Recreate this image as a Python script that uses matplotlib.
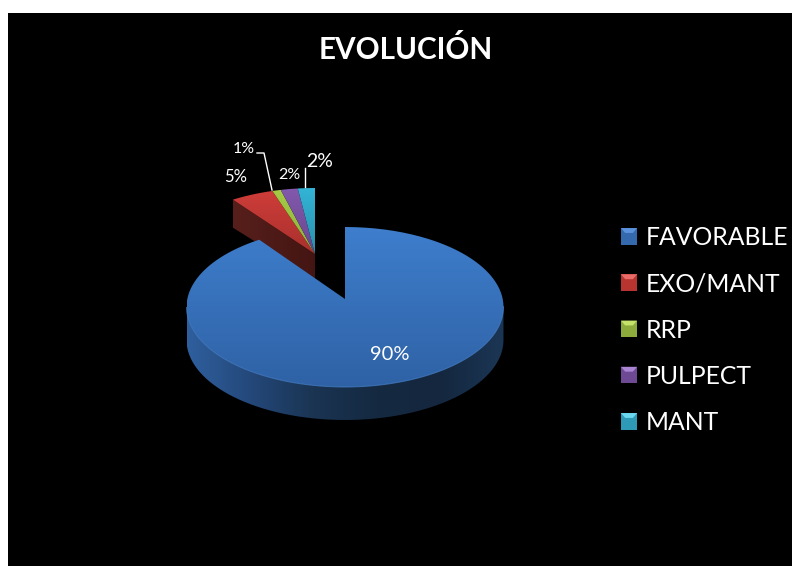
# plot.py - EVOLUCION exploded 3D-look pie chart
import numpy as np
import matplotlib
matplotlib.use("Agg")
import matplotlib.pyplot as plt
from matplotlib.colors import to_rgb
from matplotlib.legend_handler import HandlerPatch
from matplotlib.patches import PathPatch, Patch, Polygon, Rectangle
from matplotlib.path import Path
from matplotlib.transforms import Affine2D

plt.rcParams['font.family'] = ['Lato', 'DejaVu Sans']

title = "EVOLUCIÓN"
categories = ["FAVORABLE", "EXO/MANT", "RRP", "PULPECT", "MANT"]
values = [90, 5, 1, 2, 2]
percent_labels = ["90%", "5%", "1%", "2%", "2%"]

# top colour, bottom colour of each slice face
top_colors = [("#3e7ecd", "#2f62a5"), ("#cf3d39", "#a8302d"), ("#a6cb45", "#8fb13a"),
              ("#8259ad", "#69468e"), ("#33b4d6", "#2a8fab")]
legend_colors = ["#3569ad", "#b83431", "#8cab3c", "#6d4a93", "#2f9ab8"]
legend_bevel = ["#5b92dc", "#ea6c68", "#c5e36a", "#a985d4", "#6bd8f0"]

# perspective of the tilted disc, all in pixels of the picture
TILT = 0.1
MAIN = dict(cx=345.0, cy=299.0, a=157.7, b=79.2)
BACK = dict(cx=315.0, cy=254.0, a=151.0, b=72.6)
MAIN_DEPTH = 33
BACK_DEPTH = 25


def project(xy, cx, cy, a, b):
	w = 1 + TILT * xy[:, 1]
	return np.column_stack((cx + a * xy[:, 0] / w, cy - b * xy[:, 1] / w))


def wedge_polygon(wedge):
	# flatten the wedge outline, scaled up so the curve keeps its segments
	big = wedge.get_path().transformed(Affine2D().scale(1000))
	return big.to_polygons(closed_only=False)[0] / 1000


def grad_fill(ax, xy, stops, horizontal=False, zorder=1):
	# gradient through the stops, clipped to the polygon xy
	stops = np.array([to_rgb(c) for c in stops])
	pos = np.linspace(0, 1, 256)
	steps = np.linspace(0, 1, len(stops))
	rgb = np.stack([np.interp(pos, steps, stops[:, i]) for i in range(3)], axis=-1)
	img = rgb[np.newaxis, :, :] if horizontal else rgb[:, np.newaxis, :]
	x0, y0 = xy.min(axis=0)
	x1, y1 = xy.max(axis=0)
	im = ax.imshow(img, extent=(x0, x1, y1, y0), origin="upper", aspect="auto",
		interpolation="bilinear", zorder=zorder)
	clip = PathPatch(Path(xy), transform=ax.transData)
	im.set_clip_path(clip)


class BevelHandler(HandlerPatch):
	def create_artists(self, legend, orig_handle, xdescent, ydescent, width, height, fontsize, trans):
		base = Rectangle((-xdescent, -ydescent), width, height, facecolor=orig_handle.get_facecolor(),
			edgecolor="none", transform=trans)
		x0, x1 = -xdescent, width - xdescent
		y1 = height - ydescent
		top = Polygon([(x0, y1), (x1, y1), (x1 - 3, y1 - 3.5), (x0 + 3, y1 - 3.5)],
			facecolor=orig_handle.get_edgecolor(), edgecolor="none", transform=trans)
		return [base, top]


# the pie itself only gives the slice outlines, they are tilted below
tmp_fig, tmp_ax = plt.subplots()
wedges, _ = tmp_ax.pie(values, startangle=90, counterclock=False)
outlines = [wedge_polygon(w) for w in wedges]
plt.close(tmp_fig)

fig = plt.figure(figsize=(7.92, 5.79), dpi=100, facecolor="white")
ax = fig.add_axes([8 / 792, 13 / 579, 784 / 792, 553 / 579], facecolor="black")
ax.set_axis_off()
fig.patches.append(Rectangle((8 / 792, 13 / 579), 784 / 792, 553 / 579, transform=fig.transFigure,
	facecolor="black", edgecolor="none", zorder=-5))

# back slices: radial cut face of the red one, then the tops
red_arc = outlines[1][np.hypot(outlines[1][:, 0], outlines[1][:, 1]) > 0.99]
corner = project(red_arc[np.argmin(red_arc[:, 0])][np.newaxis, :], **BACK)[0]
apex = np.array([BACK["cx"], BACK["cy"]])
face = np.array([corner, apex, apex + [0, BACK_DEPTH], corner + [0, BACK_DEPTH + 3]])
grad_fill(ax, face, ["#571f1c", "#431512"], horizontal=True, zorder=2)
for i in range(1, len(values)):
	grad_fill(ax, project(outlines[i], **BACK), top_colors[i], zorder=3)

# main slice: side band on the front half of the rim, top face, rim highlight
main = project(outlines[0], **MAIN)
rim = main[np.hypot(outlines[0][:, 0], outlines[0][:, 1]) > 0.99]
i0, i1 = sorted((np.argmin(rim[:, 0]), np.argmax(rim[:, 0])))
front = rim[i0:i1 + 1]
band = np.vstack((front, (front + [0, MAIN_DEPTH])[::-1]))
grad_fill(ax, band, ["#2f5f9e", "#24487a", "#1a3452", "#152941", "#14273e", "#1b3655"], horizontal=True, zorder=4)
grad_fill(ax, main, top_colors[0], zorder=5)
ax.plot(front[:, 0], front[:, 1], color="#4a86d2", lw=0.7, alpha=0.7, zorder=6)

ax.set_xlim(8, 792)
ax.set_ylim(566, 13)

# labels and leader lines
ax.text(390, 354, percent_labels[0], color="white", fontsize=14.5, ha="center", va="center", zorder=8)
ax.text(236, 177, percent_labels[1], color="white", fontsize=12, ha="center", va="center", zorder=8)
ax.text(244, 149, percent_labels[2], color="white", fontsize=11.5, ha="center", va="center", zorder=8)
ax.text(289, 175, percent_labels[3], color="white", fontsize=11.5, ha="center", va="center", zorder=8)
ax.text(320, 161, percent_labels[4], color="white", fontsize=14, ha="center", va="center", zorder=8)
ax.plot([257, 264, 272], [153, 153, 190], color="white", lw=1, zorder=7)
ax.plot([305, 305], [168, 187], color="white", lw=1, zorder=7)

ax.text(405.5, 49, title, color="white", fontsize=21.3, fontweight="bold", ha="center", va="center")

handles = [Patch(facecolor=c, edgecolor=b) for c, b in zip(legend_colors, legend_bevel)]
ax.legend(handles, categories, handler_map={Patch: BevelHandler()}, loc="center left",
	bbox_to_anchor=(621, 330), bbox_transform=ax.transData, frameon=False, labelcolor="white",
	fontsize=17.8, handlelength=0.65, handleheight=0.65, handletextpad=0.36, labelspacing=0.94,
	borderpad=0, borderaxespad=0)

fig.savefig("out.png", dpi=100, facecolor="white")
